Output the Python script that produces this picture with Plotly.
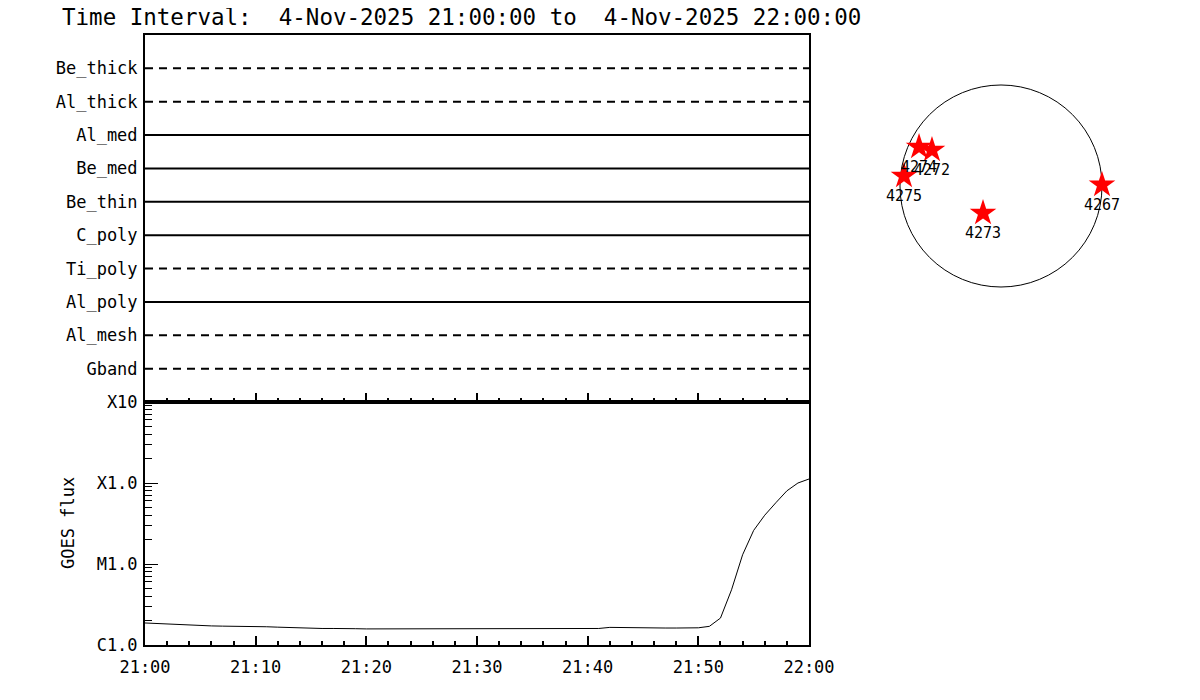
import plotly.graph_objects as go

W, H = 1200, 700
PAGE_OFFSET = 8  # default body margin of the page

# ---------------- data ----------------
title_text = "Time Interval:  4-Nov-2025 21:00:00 to  4-Nov-2025 22:00:00"

filters = ["Gband", "Al_mesh", "Al_poly", "Ti_poly", "C_poly",
           "Be_thin", "Be_med", "Al_med", "Al_thick", "Be_thick"]
filter_dashed = [True, True, False, True, False,
                 False, False, False, True, True]

goes_minutes = list(range(61))
goes_flux = [1.87e-6, 1.84e-6, 1.80e-6, 1.77e-6, 1.75e-6, 1.73e-6, 1.72e-6, 1.71e-6,
             1.71e-6, 1.70e-6, 1.69e-6, 1.68e-6, 1.66e-6, 1.64e-6, 1.62e-6, 1.61e-6,
             1.60e-6, 1.60e-6, 1.58e-6, 1.59e-6, 1.58e-6, 1.58e-6, 1.58e-6, 1.58e-6,
             1.58e-6, 1.58e-6, 1.58e-6, 1.58e-6, 1.58e-6, 1.59e-6, 1.60e-6, 1.60e-6,
             1.60e-6, 1.60e-6, 1.60e-6, 1.60e-6, 1.60e-6, 1.59e-6, 1.58e-6, 1.58e-6,
             1.58e-6, 1.60e-6, 1.65e-6, 1.64e-6, 1.62e-6, 1.62e-6, 1.62e-6, 1.62e-6,
             1.62e-6, 1.62e-6, 1.63e-6, 1.70e-6, 2.15e-6, 4.8e-6, 1.3e-5, 2.6e-5,
             4.0e-5, 5.7e-5, 8.0e-5, 1.0e-4, 1.12e-4]

goes_tickvals = [1e-6, 1e-5, 1e-4, 1e-3]
goes_ticktext = ["C1.0", "M1.0", "X1.0", "X10"]

ar_labels = ["4274", "4272", "4275", "4273", "4267"]
ar_x = [-779, -656, -922, -171, 960]     # arcsec
ar_y = [371, 342, 95, -257, 10]          # arcsec
sun_radius = 960

t0 = "2025-11-04 21:00:00"
t1 = "2025-11-04 22:00:00"
goes_times = ["2025-11-04 21:%02d:00" % m if m < 60 else "2025-11-04 22:00:00"
              for m in goes_minutes]

# ---------------- figure ----------------
FONT = "DejaVu Sans Mono"
fig = go.Figure()

def px_x(p):
    return (p - PAGE_OFFSET) / W

def px_y(p):
    return 1 - (p - PAGE_OFFSET) / H

# top panel: filter lines
for i, (name, dashed) in enumerate(zip(filters, filter_dashed)):
    fig.add_trace(go.Scatter(
        x=[t0, t1], y=[i + 1, i + 1], mode="lines",
        line=dict(color="black", width=2, dash="8px,6px" if dashed else "solid"),
        xaxis="x", yaxis="y", showlegend=False, hoverinfo="skip"))

# bottom panel: GOES flux
fig.add_trace(go.Scatter(
    x=goes_times, y=goes_flux, mode="lines",
    line=dict(color="black", width=1),
    xaxis="x2", yaxis="y2", showlegend=False))

# sun disk with active regions
fig.add_trace(go.Scatter(
    x=ar_x, y=ar_y, mode="markers+text", text=ar_labels,
    textposition="bottom center",
    textfont=dict(family=FONT, size=15, color="black"),
    marker=dict(symbol="star", size=20, color="red", line=dict(width=0)),
    xaxis="x3", yaxis="y3", showlegend=False, cliponaxis=False))

fig.add_shape(type="circle", xref="x3", yref="y3",
              x0=-sun_radius, x1=sun_radius, y0=-sun_radius, y1=sun_radius,
              line=dict(color="black", width=1), layer="below")

xdom = [px_x(145), px_x(809)]
axis_common = dict(showline=True, linecolor="black", linewidth=2, mirror=True,
                   showgrid=False, zeroline=False, automargin=False)

tickfont = dict(family=FONT, size=17, color="black")

fig.update_layout(
    width=W, height=H,
    margin=dict(l=0, r=0, t=0, b=0, autoexpand=False),
    paper_bgcolor="white", plot_bgcolor="white",
    xaxis=dict(domain=xdom, anchor="y", type="date", range=[t0, t1],
               showticklabels=False, ticks="inside", ticklen=9, tickwidth=2,
               tickcolor="black", dtick=600000, tick0=t0,
               minor=dict(ticks="inside", ticklen=4, tickwidth=2, tickcolor="black",
                          dtick=120000, showgrid=False),
               **axis_common),
    yaxis=dict(domain=[px_y(402), px_y(35)], anchor="x", range=[0, 11],
               tickvals=list(range(1, 11)), ticktext=filters, ticks="",
               tickfont=tickfont, ticklabelstandoff=2, **axis_common),
    xaxis2=dict(domain=xdom, anchor="y2", type="date", range=[t0, t1],
                tickformat="%H:%M", ticks="inside", ticklen=9, tickwidth=2,
                tickcolor="black", dtick=600000, tick0=t0, tickfont=tickfont,
                ticklabelstandoff=6,
                minor=dict(ticks="inside", ticklen=4, tickwidth=2, tickcolor="black",
                           dtick=120000, showgrid=False),
                **axis_common),
    yaxis2=dict(domain=[px_y(645), px_y(402)], anchor="x2", type="log",
                range=[-6, -3], tickvals=goes_tickvals, ticktext=goes_ticktext,
                ticks="inside", ticklen=13, tickwidth=1, tickcolor="black",
                tickfont=tickfont, ticklabelstandoff=2,
                minor=dict(ticks="inside", ticklen=7, tickwidth=1, tickcolor="black",
                           dtick="D1", showgrid=False),
                **axis_common),
    xaxis3=dict(domain=[px_x(880), px_x(1122)], anchor="y3", range=[-1150, 1150],
                visible=False, automargin=False),
    yaxis3=dict(domain=[px_y(307), px_y(65)], anchor="x3", range=[-1150, 1150],
                visible=False, automargin=False),
    annotations=[
        dict(text=title_text, xref="paper", yref="paper", x=px_x(60), y=px_y(17),
             xanchor="left", yanchor="middle", showarrow=False,
             font=dict(family=FONT, size=22.5, color="black")),
        dict(text="GOES flux", xref="paper", yref="paper", x=px_x(68), y=px_y(523),
             xanchor="center", yanchor="middle", showarrow=False, textangle=-90,
             font=dict(family=FONT, size=17, color="black")),
    ],
)

fig.write_html("out.html")
